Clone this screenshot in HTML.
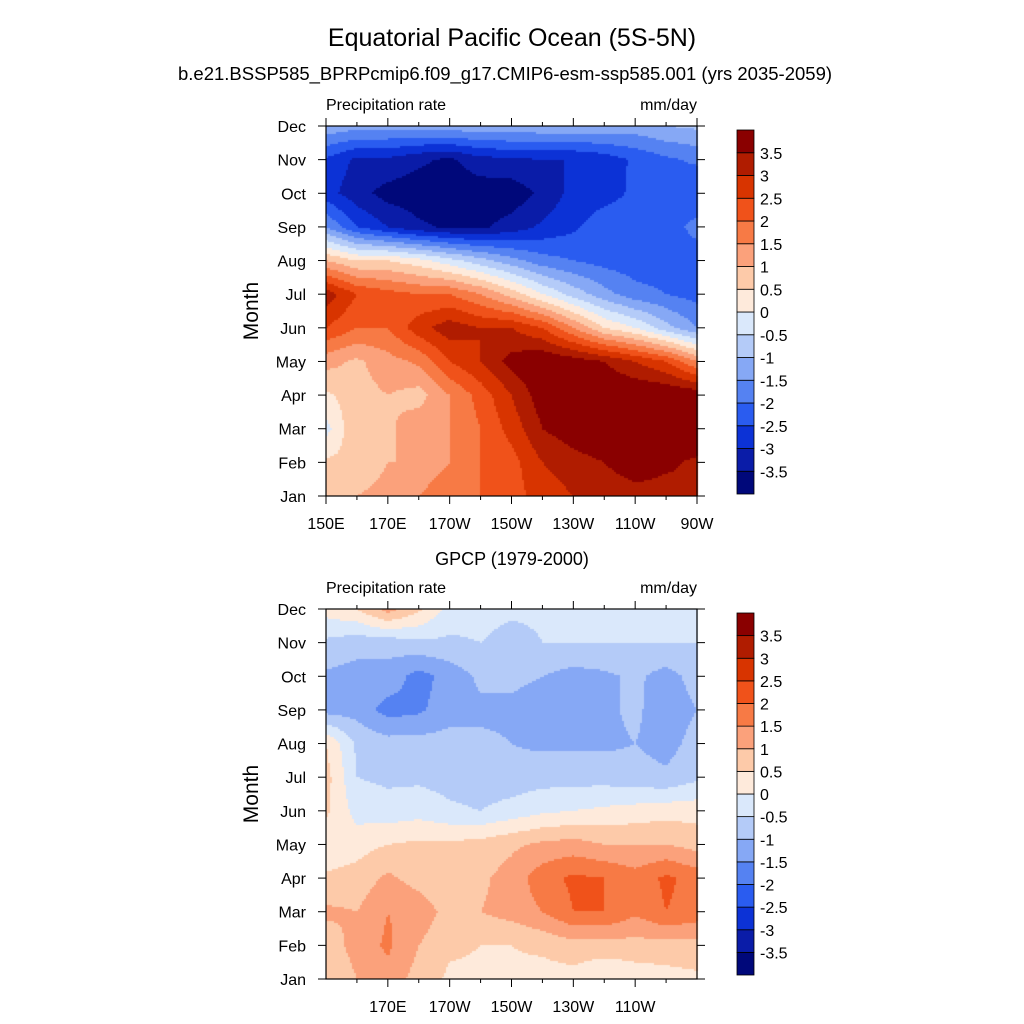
<!DOCTYPE html>
<html><head><meta charset="utf-8">
<style>
body{margin:0;background:#fff;}
#wrap{position:relative;width:1024px;height:1024px;font-family:"Liberation Sans",sans-serif;color:#000;}
canvas{position:absolute;left:0;top:0;}
svg{position:absolute;left:0;top:0;}
</style></head>
<body>
<div id="wrap">
<canvas id="cv" width="1024" height="1024"></canvas>
<svg id="sv" width="1024" height="1024"></svg>
</div>
<script>
const months=["Jan","Feb","Mar","Apr","May","Jun","Jul","Aug","Sep","Oct","Nov","Dec"];
const lons=[150,160,170,180,190,200,210,220,230,240,250,260,270];
const topTicks=[[150,"150E"],[170,"170E"],[190,"170W"],[210,"150W"],[230,"130W"],[250,"110W"],[270,"90W"]];
const botTicks=[[170,"170E"],[190,"170W"],[210,"150W"],[230,"130W"],[250,"110W"]];
const levels=[-3.5,-3,-2.5,-2,-1.5,-1,-0.5,0,0.5,1,1.5,2,2.5,3,3.5];
const colors=["#00087a","#0a1ca8","#0c32d6","#2a5cf0","#5582f2","#86a8f5","#b4cbf8","#dae8fb","#feeadb","#fdcaa9","#fba17b","#f77a45","#f0521a","#d83400","#b01c00","#8a0000"];
const topData=[
[0.8,1,1.2,1.5,2,2,2.3,2.7,3,3.2,3.3,3.3,3.5],
[0.6,0.6,1,1,1.5,2,2.3,3,3.3,3.5,3.8,3.6,3.4],
[-0.2,1,0.9,1.3,1.5,2,2.7,3.5,3.8,4,4,4,4],
[0.4,0.8,1,0.8,1.5,2.2,3,3.8,4,4,4,4,3.9],
[1.2,0.9,1.3,1.6,2.5,3,3.7,4,3.8,3.5,3,2.5,1.5],
[2.5,2,2,2.8,3.3,3,3,2.5,1.5,0.5,0,-0.8,-1.5],
[3.3,2.5,2.2,2,2,1.5,0.8,0,-0.7,-1.3,-1.8,-2,-2.2],
[1,0.5,0.5,0.2,-0.3,-0.8,-1.3,-1.8,-2,-2.2,-2.3,-2.3,-2.3],
[-1.5,-2.5,-3,-3.4,-3.6,-3.6,-3.3,-2.9,-2.6,-2.2,-2.2,-2.3,-1.8],
[-2.8,-3.3,-3.7,-3.8,-3.8,-3.8,-3.8,-3.4,-2.8,-2.7,-2.4,-2.2,-2.5],
[-2.6,-3.1,-3.1,-3.4,-3.6,-3.2,-3.1,-3,-3,-2.8,-2.4,-2.1,-1.9],
[-1.1,-1.3,-1.3,-1.3,-1.2,-1.1,-1.1,-1.1,-1.1,-1.1,-1.2,-1,-0.9]];
const botData=[
[0.5,1,1.3,0.8,0.4,0.4,0.4,0.3,0.3,0,0.2,0.3,0.4],
[0.7,1.2,1.6,1,0.6,0.5,0.5,0.6,0.8,0.8,0.8,0.8,0.8],
[1.1,1,1.5,1.3,0.8,1,1.2,1.5,2,2,1.6,2,1.8],
[0.6,0.7,1.1,0.8,0.6,0.9,1.2,1.8,2.1,2,1.7,2.1,1.8],
[0.1,0.3,0.5,0.6,0.6,0.7,0.9,1.1,1.2,1,1,1,0.8],
[0.6,-0.2,-0.3,-0.2,-0.4,-0.5,-0.3,-0.1,0,0.1,0.2,0.3,0.3],
[0.7,-0.5,-0.6,-0.6,-0.7,-0.8,-0.8,-0.7,-0.7,-0.7,-0.8,-0.9,-0.6],
[0.5,-0.6,-0.8,-0.8,-0.8,-0.9,-1,-1.1,-1.1,-1.1,-1,-1.2,-0.8],
[-1.2,-1.2,-1.7,-1.6,-1.2,-1.1,-1.1,-1.2,-1.2,-1.1,-0.9,-1.3,-1],
[-1.1,-1.2,-1.2,-1.7,-1.3,-0.9,-0.9,-1,-1.2,-1.1,-0.9,-1.2,-0.8],
[-0.6,-0.8,-0.8,-0.6,-0.6,-0.5,-0.7,-0.5,-0.5,-0.5,-0.5,-0.5,-0.5],
[0.2,0.5,1.2,0.6,-0.2,-0.3,-0.4,-0.4,-0.5,-0.4,-0.5,-0.5,-0.5]];

const NS="http://www.w3.org/2000/svg";
const sv=document.getElementById('sv');
const ctx=document.getElementById('cv').getContext('2d');
function mk(tag,attrs,parent){const e=document.createElementNS(NS,tag);for(const k in attrs)e.setAttribute(k,attrs[k]);(parent||sv).appendChild(e);return e;}
function txt(x,y,s,size,anchor,name){const t=mk('text',{x:x,y:y,'font-size':size,'text-anchor':anchor||'middle','font-family':'Liberation Sans, sans-serif'});t.textContent=s;


return t;}
function colorFor(v){let i=0;while(i<levels.length&&v>=levels[i])i++;return colors[i];}

function panel(P,data,ticks,pfx){
  const X0=326,X1=697,Y0=P.top,Y1=P.top+370;
  const xS=l=>X0+(l-150)/120*(X1-X0);
  const yS=m=>Y1-m/11*(Y1-Y0);
  const st=2;
  for(let py=Y0;py<Y1;py+=st){for(let px=X0;px<X1;px+=st){
    const m=(Y1-(py+st/2))/(Y1-Y0)*11, l=(px+st/2-X0)/(X1-X0)*12;
    const i=Math.min(10,Math.max(0,Math.floor(m))), j=Math.min(11,Math.max(0,Math.floor(l)));
    const fy=m-i, fx=l-j;
    const v=data[i][j]*(1-fx)*(1-fy)+data[i][j+1]*fx*(1-fy)+data[i+1][j]*(1-fx)*fy+data[i+1][j+1]*fx*fy;
    ctx.fillStyle=colorFor(v);ctx.fillRect(px,py,st,st);
  }}
  const g=mk('g',{});
  
  
  mk('rect',{x:X0,y:Y0,width:X1-X0,height:Y1-Y0,fill:'none',stroke:'#000','stroke-width':1.2},g);
  months.forEach((mn,i)=>{const y=yS(i);
    mk('line',{x1:X0-8,x2:X0,y1:y,y2:y,stroke:'#000'},g);
    mk('line',{x1:X1,x2:X1+8,y1:y,y2:y,stroke:'#000'},g);
    txt(X0-20,y+6,mn,16,'end',pfx+'-month-label');});
  ticks.forEach(([l,s])=>{const x=xS(l);
    mk('line',{x1:x,x2:x,y1:Y1,y2:Y1+8,stroke:'#000'},g);
    mk('line',{x1:x,x2:x,y1:Y0-8,y2:Y0,stroke:'#000'},g);
    txt(x,Y1+33,s,16,'middle',pfx+'-lon-label');});
  for(let l=160;l<270;l+=20){const x=xS(l);
    mk('line',{x1:x,x2:x,y1:Y1,y2:Y1+4,stroke:'#000'},g);
    mk('line',{x1:x,x2:x,y1:Y0-4,y2:Y0,stroke:'#000'},g);}
  txt(326,Y0-16,'Precipitation rate',16,'start',pfx+'-variable-label');
  txt(697,Y0-16,'mm/day',16,'end',pfx+'-units-label');
  const cyM=(Y0+Y1)/2;
  const yt=txt(251,cyM+7,'Month',21,'middle',pfx+'-y-axis-title');
  yt.setAttribute('transform','rotate(-90 251 '+cyM+')');
  yt.setAttribute('x',251);
  const cb=mk('g',{});
  
  
  const cy0=P.cb0,cy1=P.cb1,h=(cy1-cy0)/colors.length;
  colors.forEach((c,k)=>{const r=mk('rect',{x:737,y:cy1-(k+1)*h,width:17,height:h,fill:c,stroke:'#000','stroke-width':0.8},cb);
    
    });
  levels.forEach((lv,k)=>{txt(760,cy1-(k+1)*h+6,String(lv),16,'start',pfx+'-colorbar-label');});
}
txt(512,46,'Equatorial Pacific Ocean (5S-5N)',25,'middle','chart-title');
txt(505,80,'b.e21.BSSP585_BPRPcmip6.f09_g17.CMIP6-esm-ssp585.001 (yrs 2035-2059)',18.5,'middle','top-panel-subtitle');
txt(512,565,'GPCP (1979-2000)',18,'middle','bottom-panel-subtitle');
panel({top:126,cb0:130,cb1:494},topData,topTicks,'top');
panel({top:609,cb0:613,cb1:975},botData,botTicks,'bottom');
</script>
</body></html>
